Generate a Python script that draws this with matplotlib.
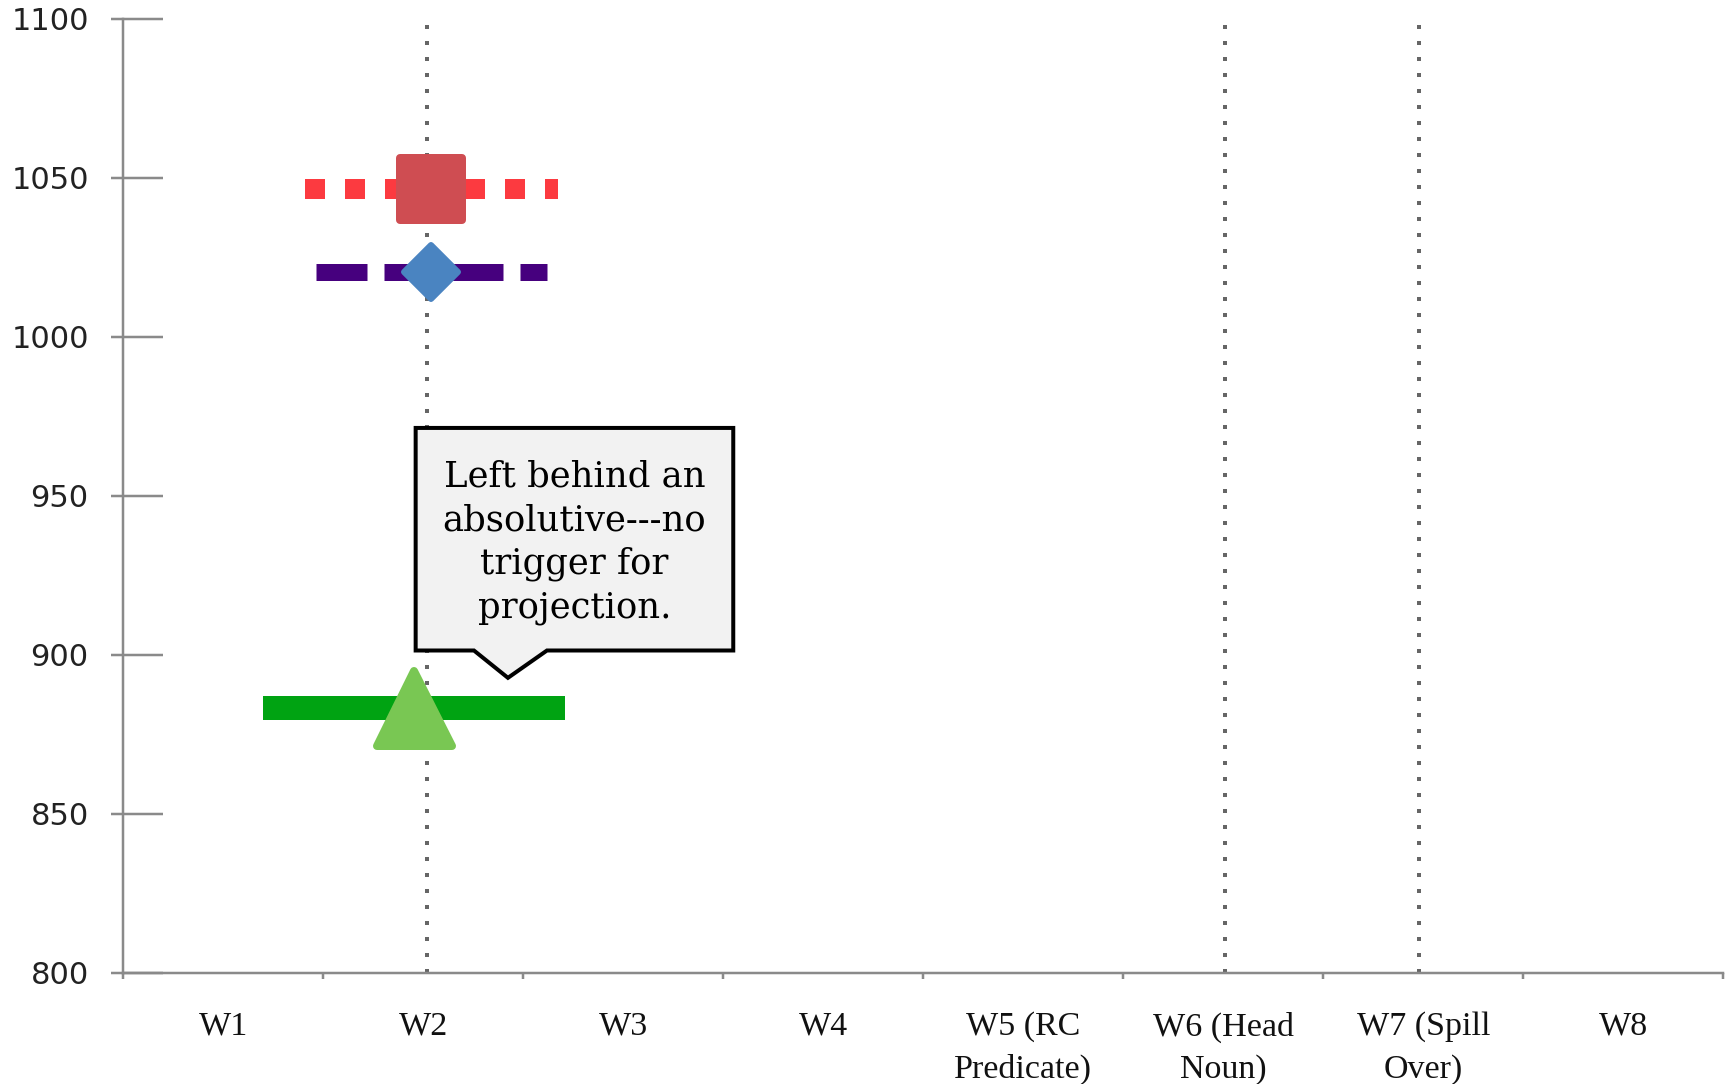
import matplotlib as mpl
import matplotlib.pyplot as plt
from matplotlib.markers import MarkerStyle
from matplotlib.patches import Polygon

# word regions on the x axis
regions = ['W1', 'W2', 'W3', 'W4', 'W5 (RC\nPredicate)', 'W6 (Head\nNoun)',
           'W7 (Spill\nOver)', 'W8']

# reading times at W2, one value per condition
series_names = ['red', 'purple', 'green']
series_x = [1.04, 1.04, 0.955]
series_rt = [1046.5, 1020.5, 883.2]
series_spread = [0.633, 0.576, 0.755]

# dotted reference lines (category positions)
ref_lines = [1.02, 5.01, 5.98]

y_ticks = [800, 850, 900, 950, 1000, 1050, 1100]

callout_text = 'Left behind an\nabsolutive---no\ntrigger for\nprojection.'

PX = 72 / 100  # points per pixel at dpi 100

styles = {
    'red': dict(line='#FC3A40', lw=20, ls=(0, (1, 1)), mk='s', mcol='#CF4D52', ms=62, mew=8),
    'purple': dict(line='#46007E', lw=17, ls=(0, (3, 1)), mk='D', mcol='#4A84C1', ms=38, mew=6),
    'green': dict(line='#00A312', lw=24, ls='-', mk='^', mcol='#79C753', ms=75, mew=8),
}

fig = plt.figure(figsize=(17.29, 10.84), dpi=100)
ax = fig.add_axes([0.0714, 0.1028, 0.9254, 0.8799])

ax.set_xlim(-0.5, 7.5)
ax.set_ylim(800, 1100)

for x in ref_lines:
    ax.vlines(x, 800, 1098, colors='#666666', linewidth=4 * PX,
              linestyles=(0, (1, 3)), zorder=1)

for name, x, y, hw in zip(series_names, series_x, series_rt, series_spread):
    st = styles[name]
    ax.plot([x - hw, x + hw], [y, y], color=st['line'], linewidth=st['lw'] * PX,
            linestyle=st['ls'], dash_capstyle='butt', solid_capstyle='butt', zorder=3)
    ax.plot([x], [y], linestyle='none', marker=MarkerStyle(st['mk'], joinstyle='round'),
            markersize=st['ms'] * PX, markerfacecolor=st['mcol'],
            markeredgecolor=st['mcol'], markeredgewidth=st['mew'] * PX, zorder=4)

# callout box
bx0, bx1, by0, by1 = 0.961, 2.549, 901.3, 971.3
shape = [(bx0, by1), (bx1, by1), (bx1, by0), (1.6175, by0), (1.4225, 892.7),
         (1.2525, by0), (bx0, by0)]
ax.add_patch(Polygon(shape, closed=True, facecolor='#F2F2F2', edgecolor='black',
                     linewidth=4 * PX, joinstyle='miter', zorder=5))
ax.text((bx0 + bx1) / 2, (by0 + by1) / 2 - 1, callout_text, ha='center', va='center',
        family='DejaVu Serif', fontsize=25.5, linespacing=1.36, zorder=6)

for s in ['top', 'right']:
    ax.spines[s].set_visible(False)
for s in ['left', 'bottom']:
    ax.spines[s].set_color('#8A8A8A')
    ax.spines[s].set_linewidth(2.5 * PX)

# y axis: ticks crossing the spine
ax.set_yticks(y_ticks)
ax.set_yticks(y_ticks, minor=True)
ax.yaxis.remove_overlapping_locs = False
ax.tick_params(axis='y', which='major', direction='in', length=40 * PX, width=2.5 * PX,
               color='#8A8A8A', pad=25, labelsize=22, labelcolor='#222222')
ax.tick_params(axis='y', which='minor', direction='out', length=12 * PX, width=2.5 * PX,
               color='#8A8A8A', labelleft=False)

# x axis: ticks at category edges, labels centred
ax.set_xticks([i - 0.5 for i in range(len(regions) + 1)])
ax.set_xticks(range(len(regions)), minor=True)
ax.set_xticklabels([], minor=False)
ax.set_xticklabels(regions, minor=True, family='Liberation Serif', fontsize=24.5,
                   linespacing=1.5)
ax.tick_params(axis='x', which='major', direction='out', length=6 * PX, width=2.5 * PX,
               color='#8A8A8A')
ax.tick_params(axis='x', which='minor', length=0, pad=28, labelcolor='#111111')

fig.savefig('out.png', dpi=100)
